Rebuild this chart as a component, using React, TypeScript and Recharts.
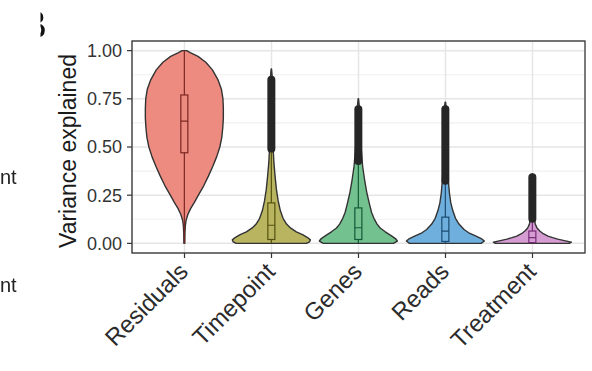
import { BarChart, Bar, XAxis, YAxis, CartesianGrid } from 'recharts';

const categories = ['Residuals', 'Timepoint', 'Genes', 'Reads', 'Treatment'];
const yTicks = [0, 0.25, 0.5, 0.75, 1];
const minorTicks = [0.125, 0.375, 0.625, 0.875];

// violin extent (min / max of the data)
const violinMin = [0, 0, 0, 0, 0];
const violinMax = [1.0, 0.905, 0.75, 0.733, 0.36];

// boxplot stats
const boxQ1 = [0.47, 0.02, 0.02, 0.01, 0.004];
const boxMedian = [0.634, 0.094, 0.081, 0.064, 0.03];
const boxQ3 = [0.77, 0.21, 0.184, 0.136, 0.064];
const whiskerLow = [0, 0, 0, 0, 0];
const whiskerHigh = [1.0, 0.47, 0.41, 0.31, 0.15];

// dense outlier columns (lowest / highest outlier), null = none
const outlierLow = [null, 0.47, 0.407, 0.304, 0.107];
const outlierHigh = [null, 0.87, 0.716, 0.716, 0.364];

// density profiles: [value, relative half-width]
const residualsDensity = [
  [0, 0.012], [0.05, 0.015], [0.09, 0.025], [0.12, 0.045], [0.15, 0.09], [0.18, 0.16],
  [0.21, 0.25], [0.25, 0.36], [0.3, 0.5], [0.35, 0.62], [0.4, 0.73], [0.45, 0.83],
  [0.5, 0.91], [0.55, 0.96], [0.6, 0.985], [0.65, 1.0], [0.7, 1.0], [0.75, 0.99],
  [0.8, 0.95], [0.85, 0.86], [0.9, 0.72], [0.94, 0.55], [0.97, 0.35], [0.99, 0.15], [1.0, 0.06],
];
const timepointDensity = [
  [0, 0.9], [0.008, 0.98], [0.018, 1.0], [0.03, 0.93], [0.045, 0.8], [0.06, 0.64],
  [0.08, 0.49], [0.1, 0.39], [0.13, 0.3], [0.17, 0.23], [0.22, 0.175], [0.28, 0.13],
  [0.35, 0.095], [0.42, 0.065], [0.5, 0.045], [0.6, 0.035], [0.7, 0.03], [0.8, 0.025],
  [0.87, 0.02], [0.905, 0.005],
];
const genesDensity = [
  [0, 0.9], [0.012, 1.0], [0.025, 0.95], [0.04, 0.84], [0.06, 0.69], [0.08, 0.56],
  [0.1, 0.48], [0.13, 0.4], [0.16, 0.34], [0.2, 0.29], [0.26, 0.22], [0.33, 0.16],
  [0.4, 0.11], [0.5, 0.07], [0.6, 0.045], [0.7, 0.03], [0.75, 0.005],
];
const readsDensity = [
  [0, 0.92], [0.012, 1.0], [0.025, 0.92], [0.04, 0.76], [0.055, 0.6], [0.072, 0.48],
  [0.1, 0.35], [0.13, 0.26], [0.17, 0.19], [0.21, 0.14], [0.26, 0.105], [0.33, 0.075],
  [0.45, 0.05], [0.6, 0.035], [0.7, 0.025], [0.733, 0.005],
];
const treatmentDensity = [
  [0, 0.95], [0.006, 1.0], [0.014, 0.82], [0.022, 0.65], [0.03, 0.52], [0.038, 0.4],
  [0.05, 0.28], [0.064, 0.19], [0.08, 0.12], [0.1, 0.075], [0.13, 0.05], [0.2, 0.035],
  [0.3, 0.025], [0.36, 0.005],
];
const densities = [residualsDensity, timepointDensity, genesDensity, readsDensity, treatmentDensity];

const fills = ['#EE8B80', '#B9B45F', '#72C18E', '#6FAFDD', '#D69DD2'];
const boxStrokes = ['#7A2620', '#54520F', '#145A38', '#1A4B72', '#772C77'];

const FONT = '"Liberation Sans", Arial, Helvetica, sans-serif';

const data = categories.map((name, i) => ({
  name,
  range: [violinMin[i], violinMax[i]],
  lo: violinMin[i],
  hi: violinMax[i],
  q1: boxQ1[i],
  med: boxMedian[i],
  q3: boxQ3[i],
  wLo: whiskerLow[i],
  wHi: whiskerHigh[i],
  oLo: outlierLow[i],
  oHi: outlierHigh[i],
  density: densities[i],
  idx: i,
}));

// bar gives y/height for [lo, hi]; map any value inside through that
function ViolinShape(props: any) {
  const { x, y, width, height, payload } = props;
  const p = payload;
  const py = (v: number) => y + height * (p.hi - v) / (p.hi - p.lo);
  const cx = x + width / 2;
  const half = width / 2;
  const dens: number[][] = p.density;
  const right = dens.map(([v, w]) => `${cx + w * half},${py(v)}`);
  const left = [...dens].reverse().map(([v, w]) => `${cx - w * half},${py(v)}`);
  const path = 'M' + right.concat(left).join('L') + 'Z';
  const bw = width * 0.045;
  const fill = fills[p.idx];
  const bs = boxStrokes[p.idx];
  return (
    <g>
      <path d={path} fill={fill} stroke="#333333" strokeWidth={1.4} strokeLinejoin="round" />
      <line x1={cx} x2={cx} y1={py(p.wLo)} y2={py(p.wHi)} stroke={bs} strokeWidth={1.2} />
      <rect x={cx - bw} y={py(p.q3)} width={bw * 2} height={py(p.q1) - py(p.q3)} fill={fill} stroke={bs} strokeWidth={1.2} />
      <line x1={cx - bw} x2={cx + bw} y1={py(p.med)} y2={py(p.med)} stroke={bs} strokeWidth={1.2} />
      {p.oLo != null && (
        <line x1={cx} x2={cx} y1={py(p.oLo) - 4} y2={py(p.oHi) + 4} stroke="#262626" strokeWidth={8} strokeLinecap="round" />
      )}
    </g>
  );
}

function XTick({ x, y, payload }: any) {
  const tx = x + 5;
  const ty = y + 13;
  return (
    <text x={tx} y={ty} textAnchor="end" transform={`rotate(-45, ${tx}, ${ty})`}
      fontSize={24} fill="#2b2b2b" fontFamily={FONT}>
      {payload.value}
    </text>
  );
}

function YTitle({ viewBox }: any) {
  const { y, height } = viewBox;
  const cx = 67.5;
  const cy = y + height / 2 + 4;
  return (
    <text x={cx} y={cy} textAnchor="middle" transform={`rotate(-90, ${cx}, ${cy})`}
      fontSize={23} fill="#1a1a1a" fontFamily={FONT}>
      Variance explained
    </text>
  );
}

export default function App() {
  return (
    <div style={{ position: 'relative', width: 580, height: 355, fontFamily: FONT }}>
      <BarChart width={580} height={355} data={data} margin={{ top: 33, right: 3, left: 0, bottom: 0 }}
        barCategoryGap="5%">
        <CartesianGrid horizontalValues={minorTicks} vertical={false} stroke="#F0F0F0" strokeWidth={1.2} />
        <CartesianGrid stroke="#E6E6E6" strokeWidth={1.5} />
        <XAxis dataKey="name" height={110} padding={{ left: 9, right: 9 }} axisLine={false}
          tickLine={{ stroke: '#333333', strokeWidth: 1.2 }} tickSize={5} tick={<XTick />} interval={0} />
        <YAxis type="number" domain={[-0.05, 1.05]} ticks={yTicks} width={124} allowDataOverflow
          axisLine={false} tickLine={{ stroke: '#333333', strokeWidth: 1.2 }} tickSize={5} tickMargin={5}
          tickFormatter={(v: number) => v.toFixed(2)}
          tick={{ fontSize: 18, fill: '#333333', fontFamily: FONT }}
          label={<YTitle />} />
        <Bar dataKey="range" shape={<ViolinShape />} isAnimationActive={false} />
      </BarChart>
      <svg width={592} height={363} style={{ position: 'fixed', left: 0, top: 0, pointerEvents: 'none' }}>
        <defs>
          <clipPath id="bclip">
            <rect x={40.5} y={0} width={6} height={45} />
          </clipPath>
        </defs>
        <rect x={132} y={41} width={453} height={212} fill="none" stroke="#333333" strokeWidth={1.3} />
        <g clipPath="url(#bclip)">
          <text x={21.5} y={38} fontSize={38} fill="#111" fontFamily={FONT}>B</text>
        </g>
        <text x={0} y={184} fontSize={20} fill="#222" fontFamily={FONT}>nt</text>
        <text x={0} y={292} fontSize={20} fill="#222" fontFamily={FONT}>nt</text>
      </svg>
    </div>
  );
}
